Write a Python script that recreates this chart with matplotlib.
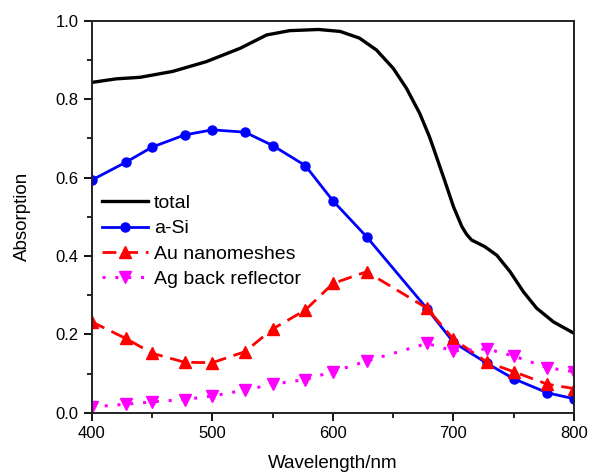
import matplotlib
matplotlib.use("Agg")
import matplotlib.pyplot as plt
from matplotlib.ticker import MultipleLocator

plt.rcParams['font.family'] = ['Liberation Sans', 'DejaVu Sans']

# total absorption (smooth curve)
total_wl = [400, 420, 440, 467, 495, 523, 545, 564, 588, 606, 622, 636, 650, 661,
            672, 680, 683, 693, 700, 707, 711, 715, 726, 736, 747, 758, 769, 783, 800]
total_abs = [0.843, 0.852, 0.856, 0.871, 0.896, 0.930, 0.964, 0.975, 0.978, 0.973,
             0.956, 0.926, 0.879, 0.828, 0.764, 0.705, 0.679, 0.590, 0.526, 0.475,
             0.455, 0.441, 0.424, 0.402, 0.360, 0.309, 0.267, 0.232, 0.203]

# marker wavelengths
wl = [400, 428, 450, 477, 500, 527, 550, 577, 600, 628, 678, 700, 728, 750, 778, 800]
asi = [0.594, 0.639, 0.678, 0.709, 0.722, 0.716, 0.682, 0.631, 0.541, 0.449,
       0.266, 0.180, 0.126, 0.087, 0.051, 0.036]
au = [0.232, 0.190, 0.152, 0.129, 0.128, 0.156, 0.214, 0.262, 0.330, 0.360,
      0.267, 0.188, 0.129, 0.105, 0.073, 0.062]
ag = [0.015, 0.022, 0.028, 0.034, 0.043, 0.058, 0.073, 0.085, 0.105, 0.132,
      0.177, 0.158, 0.163, 0.145, 0.115, 0.105]

labels = ["total", "a-Si", "Au nanomeshes", "Ag back reflector"]
xticks = [400, 500, 600, 700, 800]
yticks = [0.0, 0.2, 0.4, 0.6, 0.8, 1.0]

fig = plt.figure(figsize=(5.89, 4.74), dpi=100)
ax = fig.add_axes([0.156, 0.129, 0.8185, 0.827])

ax.plot(total_wl, total_abs, color='black', lw=2.4, label=labels[0])
ax.plot(wl, asi, color='#0000ff', lw=2.0, marker='o', ms=6.5, label=labels[1])
ax.plot(wl, au, color='#ff0000', lw=2.0, ls=(0, (5, 2.8)), marker='^', ms=8, label=labels[2])
ax.plot(wl, ag, color='#ff00ff', lw=2.2, ls=(0, (1, 3.2)), marker='v', ms=8, label=labels[3])

ax.set_xlim(400, 800)
ax.set_ylim(0, 1.0)
ax.set_xticks(xticks)
ax.set_yticks(yticks)
ax.set_yticklabels([f"{v:.1f}" for v in yticks])
ax.xaxis.set_minor_locator(MultipleLocator(50))
ax.yaxis.set_minor_locator(MultipleLocator(0.1))
ax.tick_params(which='major', direction='out', length=6, width=1.3, labelsize=12,
               top=False, right=False)
ax.tick_params(which='minor', direction='out', length=3.5, width=1.2,
               top=False, right=False)
for s in ax.spines.values():
    s.set_linewidth(1.4)
    s.set_color('#222222')

ax.set_xlabel("Wavelength/nm", fontsize=13.5, labelpad=10)
ax.set_ylabel("Absorption", fontsize=13.5, labelpad=18)

ax.legend(loc='upper left', bbox_to_anchor=(0.0, 0.582), frameon=False,
          fontsize=14, handlelength=2.4, handletextpad=0.3, labelspacing=0.4,
          borderaxespad=0.3, borderpad=0.2)

fig.savefig("out.png", dpi=100)
